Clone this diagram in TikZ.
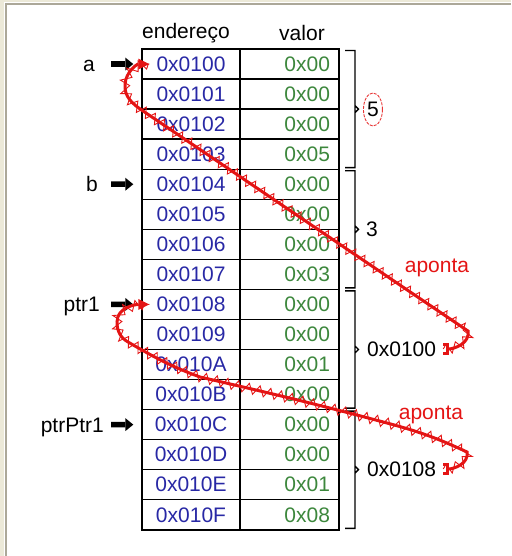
\documentclass[tikz,border=0pt]{standalone}
\usepackage{fontspec}
\setmainfont{Liberation Sans}
\usepackage{tikz}
\usetikzlibrary{arrows.meta,shapes.geometric,decorations.pathmorphing}
\definecolor{addrblue}{RGB}{40,40,165}
\definecolor{valgreen}{RGB}{60,135,60}
\definecolor{ptrred}{RGB}{228,20,20}
\definecolor{framegray}{RGB}{172,168,153}
\definecolor{framebeige}{RGB}{236,233,216}

\begin{document}
\begin{tikzpicture}[x=1pt, y=1pt, font=\fontsize{21pt}{25pt}\selectfont,
	cell/.style={draw, line width=1.4pt, minimum height=30.05pt, inner sep=0pt},
	addr/.style={cell, minimum width=98pt, text=addrblue},
	val/.style={cell, text width=81pt, inner xsep=9pt, align=right, text=valgreen},
	var/.style={anchor=base east, inner sep=0pt},
	blk/.style={line width=5.5pt, -{Triangle[length=8pt, width=13pt, line width=0pt]}, shorten >=8pt},
	pointer/.style={ptrred, line width=3pt, {Bracket[reversed, length=4pt, width=12pt, line width=2.6pt]}-{Triangle[length=11pt, width=11pt, line width=0pt]},
		postaction={draw, -, line width=0.9pt, decorate, decoration={zigzag, amplitude=5pt, segment length=11pt}}},
	sum/.style={anchor=west, inner sep=1pt}]
		\useasboundingbox (0,0) rectangle (511,-556);
		\fill[framebeige] (0,0) rectangle (4,-556);
		\fill[framebeige] (0,0) rectangle (511,-2.5);
		\draw[framegray, line width=2pt] (6.3,-556) -- (6.3,-3.7) -- (511,-3.7);

		\node (hdaddr) at (186,-33) {endereço};
		\node (hdval) at (302,-33) {valor};

		\foreach \h/\v [count=\i from 0] in {0/00,1/00,2/00,3/05,4/00,5/00,6/00,7/03,8/00,9/00,A/01,B/00,C/00,D/00,E/01,F/08}
			{
			\node[addr] (ad\i) at (191,-64.03-30.05*\i) {0x010\h};
			\node[val] (vl\i) at (289.5,-64.03-30.05*\i) {0x\v};
			}

		\foreach \g in {0,...,3}
			\draw[line width=1.4pt] (345,-50.5-120.2*\g) -- (355,-50.5-120.2*\g) -- (355,-167.7-120.2*\g) -- (345,-167.7-120.2*\g)
				(355,-105.6-120.2*\g) -- (358.5,-109.1-120.2*\g) -- (355,-112.6-120.2*\g);

		\node[sum, ellipse, draw=ptrred!85, line width=0.9pt, dash pattern=on 3pt off 1.2pt, minimum width=19pt, minimum height=33pt, inner sep=0pt] (sum0) at (363,-109.5) {5};
		\node[sum] (sum1) at (365,-229.5) {3};
		\node[sum] (sum2) at (366,-349) {0x0100};
		\node[sum] (sum3) at (366,-469) {0x0108};

		\node[text=ptrred] (pt1) at (437,-268) {aponta};
		\node[text=ptrred] (pt2) at (431,-415) {aponta};

		\node[var] (va) at (95,-71.5) {a};
		\node[var] (vb) at (98,-191.7) {b};
		\node[var] (vptr) at (100,-311.9) {ptr1};
		\node[var] (vptrptr) at (104,-432.1) {ptrPtr1};

		\coordinate (tla) at (111,-64.03);
		\coordinate (tlb) at (111,-184.23);
		\coordinate (tlptr) at (111,-304.43);
		\coordinate (tlptrptr) at (111,-424.63);
		\draw[blk] (tla) -- (ad0);
		\draw[blk] (tlb) -- (ad4);
		\draw[blk] (tlptr) -- (ad8);
		\draw[blk] (tlptrptr) -- (ad12);

		\draw[pointer] ([xshift=6pt]sum2.east) to[out=0, in=-80] (468,-331) to[out=146, in=-34] (143,-111)
			to[out=146, in=-95] (125,-84) to[out=85, in=180] ([xshift=8pt]ad0.west);
		\draw[pointer] ([xshift=6pt]sum3.east) to[out=0, in=-80] (467,-452) to[out=155, in=-15] (387,-423)
			to[out=165, in=-13] (200,-377) to[out=160, in=-30] (128,-342) to[out=150, in=-90] (117,-322)
			to[out=90, in=180] ([xshift=8pt]ad8.west);
\end{tikzpicture}
\end{document}
